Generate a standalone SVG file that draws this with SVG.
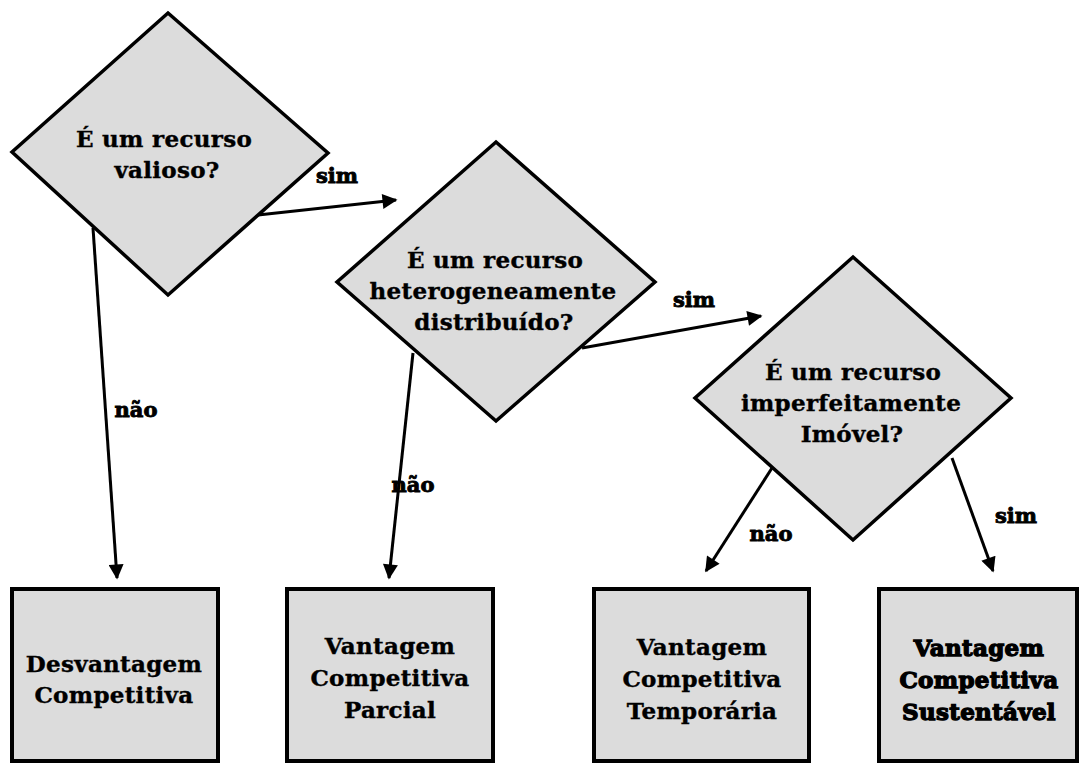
<svg xmlns="http://www.w3.org/2000/svg" width="1080" height="763" viewBox="0 0 1080 763">
  <style>
    .shape { fill: #dcdcdc; stroke: #000; stroke-width: 3.5; stroke-linejoin: miter; }
    .box { fill: #dcdcdc; stroke: #000; stroke-width: 4; }
    .txt { font-family: "DejaVu Serif", "Liberation Serif", serif; font-weight: bold; font-size: 23px; fill: #000; text-anchor: middle; letter-spacing: 0.3px; stroke: #000; stroke-width: 0.4px; }
    .heavy { stroke-width: 1.3px; }
    .lbl { font-family: "DejaVu Serif", "Liberation Serif", serif; font-weight: bold; font-size: 21px; fill: #000; text-anchor: middle; stroke: #000; stroke-width: 0.9px; }
    .edge { stroke: #000; stroke-width: 3; fill: none; marker-end: url(#arrow); }
  </style>
  <defs>
    <marker id="arrow" viewBox="0 0 10 10" refX="9" refY="5" markerWidth="5.5" markerHeight="5" markerUnits="strokeWidth" orient="auto">
      <path d="M0,0 L10,5 L0,10 z" fill="#000"/>
    </marker>
  </defs>
  <rect width="1080" height="763" fill="#fff"/>

  <!-- connectors -->
  <g id="connectors">
    <line class="edge" x1="258" y1="215" x2="396" y2="200"/>
    <line class="edge" x1="93" y1="228" x2="117" y2="578"/>
    <line class="edge" x1="582" y1="348" x2="761" y2="316"/>
    <line class="edge" x1="413" y1="353" x2="389" y2="578"/>
    <line class="edge" x1="772" y1="468" x2="706" y2="571"/>
    <line class="edge" x1="952" y1="458" x2="993" y2="571"/>
    <text class="lbl" x="337" y="183">sim</text>
    <text class="lbl" x="136" y="417">não</text>
    <text class="lbl" x="694" y="307">sim</text>
    <text class="lbl" x="413" y="492">não</text>
    <text class="lbl" x="771" y="541">não</text>
    <text class="lbl" x="1016" y="523">sim</text>
  </g>

  <!-- decision: valioso -->
  <g id="q-valioso">
    <polygon class="shape" points="168,13 328,153 168,295 12,152"/>
    <text class="txt" x="164" y="147">É um recurso</text>
    <text class="txt" x="167" y="178">valioso?</text>
  </g>

  <!-- decision: heterogeneamente distribuido -->
  <g id="q-heterogeneo">
    <polygon class="shape" points="496,142 655,282 496,421 337,282"/>
    <text class="txt" x="495" y="268">É um recurso</text>
    <text class="txt" x="493" y="299">heterogeneamente</text>
    <text class="txt" x="494" y="330">distribuído?</text>
  </g>

  <!-- decision: imperfeitamente imovel -->
  <g id="q-imovel">
    <polygon class="shape" points="853,257 1011,398 853,540 695,398"/>
    <text class="txt" x="853" y="380">É um recurso</text>
    <text class="txt" x="851" y="411">imperfeitamente</text>
    <text class="txt" x="852" y="442">Imóvel?</text>
  </g>

  <!-- outcomes -->
  <g id="r-desvantagem">
    <rect class="box" x="12" y="589" width="206" height="172"/>
    <text class="txt" x="114" y="672">Desvantagem</text>
    <text class="txt" x="114" y="703">Competitiva</text>
  </g>

  <g id="r-parcial">
    <rect class="box" x="287" y="589" width="206" height="172"/>
    <text class="txt" x="390" y="654">Vantagem</text>
    <text class="txt" x="390" y="686">Competitiva</text>
    <text class="txt" x="390" y="718">Parcial</text>
  </g>

  <g id="r-temporaria">
    <rect class="box" x="594" y="589" width="215" height="172"/>
    <text class="txt" x="702" y="655">Vantagem</text>
    <text class="txt" x="702" y="687">Competitiva</text>
    <text class="txt" x="702" y="719">Temporária</text>
  </g>

  <g id="r-sustentavel">
    <rect class="box" x="879" y="589" width="198" height="172"/>
    <text class="txt heavy" x="979" y="656">Vantagem</text>
    <text class="txt heavy" x="979" y="688">Competitiva</text>
    <text class="txt heavy" x="979" y="720">Sustentável</text>
  </g>
</svg>
